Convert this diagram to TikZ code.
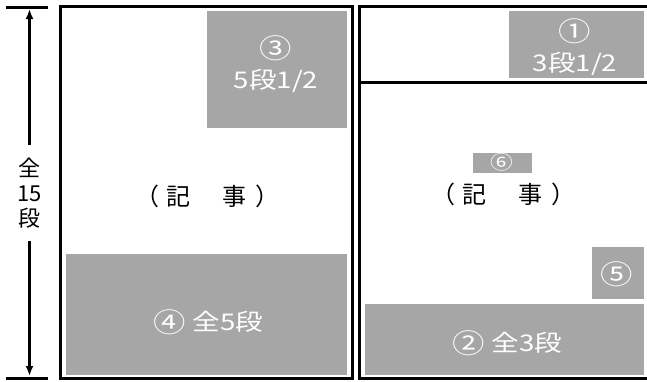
\documentclass[tikz,border=0pt]{standalone}
\usepackage{fontspec}
\setmainfont{Noto Sans CJK JP}
\newfontfamily\adfont[FakeStretch=1.2]{Noto Sans CJK JP}
\usetikzlibrary{arrows.meta}
\definecolor{adgray}{RGB}{166,166,166}
\newcommand{\adno}[2][27]{\raisebox{-1.5pt}{\fontsize{#1}{30}\selectfont #2}}
\begin{document}
\begin{tikzpicture}[x=1pt,y=-1pt,>={Latex[length=10pt,width=8pt]}]
            \tikzstyle{page}=[draw=black, line width=3pt]
            \tikzstyle{box}=[rectangle, fill=adgray, draw=white, line width=0.6pt, inner sep=0pt]
            \tikzstyle{adtext}=[text=white, align=center, inner sep=0pt, font=\adfont\fontsize{23}{31}\selectfont]
            \tikzstyle{kiji}=[inner sep=0pt, font=\fontsize{24}{26}\selectfont]
            \clip (0,0) rectangle (647,381);
            % pages
            \draw[page] (60,6.5) rectangle (352,378);
            \draw[page] (359,6.5) rectangle (660,378);
            \draw[page] (359,82) -- (660,82);
            % ads
            \node[box, minimum width=141pt, minimum height=118pt] (bx3) at (276.5,69) {};
            \node[box, minimum width=136pt, minimum height=68pt] (bx1) at (576,44) {};
            \node[box, minimum width=60pt, minimum height=21pt] (bx6) at (502,162.5) {};
            \node[box, minimum width=282pt, minimum height=122pt] (bx4) at (206,314) {};
            \node[box, minimum width=53pt, minimum height=53pt] (bx5) at (617.5,272.5) {};
            \node[box, minimum width=280pt, minimum height=72pt] (bx2) at (504,339) {};
            \node[adtext] (t3) at (276,64) {\adno{③}\\5段1/2};
            \node[adtext] (t1) at (575,47) {\adno{①}\\3段1/2};
            \node[adtext] (t6) at (502,162) {\adno[19]{⑥}};
            \node[adtext] (t4) at (208,322) {\adno{④}\hspace{7pt}全5段};
            \node[adtext] (t5) at (617,274) {\adno{⑤}};
            \node[adtext] (t2) at (507,343) {\adno{②}\hspace{7pt}全3段};
            % articles
            \node[kiji] (kijiL) at (207,196) {（\hspace{8pt}記\hspace{32pt}事\hspace{8pt}）};
            \node[kiji] (kijiR) at (503,194) {（\hspace{8pt}記\hspace{32pt}事\hspace{8pt}）};
            % total height
            \draw[line width=3pt] (6,7) -- (48,7);
            \draw[line width=3pt] (6,378) -- (48,378);
            \coordinate (top) at (29.5,9);
            \coordinate (bot) at (29.5,376);
            \node[align=center, inner xsep=2pt, inner ysep=13pt, font=\fontsize{22}{25}\selectfont] (total) at (29.5,193) {全\\15\\段};
            \path [->, line width=2.5pt] (total) edge[] (top);
            \path [->, line width=2.5pt] (total) edge[] (bot);
\end{tikzpicture}
\end{document}
